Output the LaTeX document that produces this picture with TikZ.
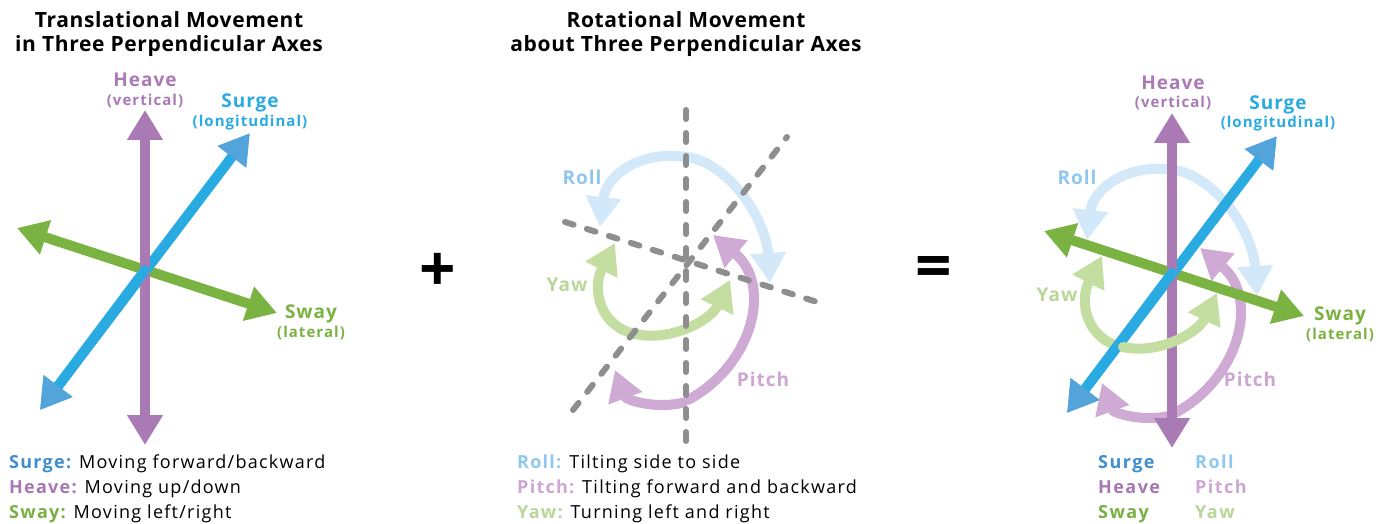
\documentclass[tikz,border=0pt]{standalone}
\usepackage{fontspec}
\setmainfont{Open Sans}
\newfontfamily\legfont[LetterSpace=7]{Open Sans}
\newfontfamily\keyfont[LetterSpace=8]{Open Sans}
\newfontfamily\lblfont[LetterSpace=5]{Open Sans}
\newfontfamily\subfont[LetterSpace=7]{Open Sans}
\newfontfamily\titfont[LetterSpace=3]{Open Sans}
\usetikzlibrary{arrows.meta}
\definecolor{heavec}{HTML}{AA7AB5}
\definecolor{surgec}{HTML}{29AAE1}
\definecolor{surgeh}{HTML}{52A4DB}
\definecolor{swayc}{HTML}{7BB342}
\definecolor{rollc}{HTML}{D3E8F8}
\definecolor{rolll}{HTML}{8EC8EE}
\definecolor{yawc}{HTML}{C4DDA0}
\definecolor{yawl}{HTML}{B8D798}
\definecolor{pitchc}{HTML}{CFAAD4}
\definecolor{pitchl}{HTML}{CDA6D2}
\definecolor{dashc}{HTML}{8E8E8E}
\definecolor{legsurge}{HTML}{3E8ED0}
\definecolor{legheave}{HTML}{A777B4}
\definecolor{legsway}{HTML}{78B043}
\tikzset{
  axisline/.style={line width=10pt},
  rotline/.style={line width=10pt},
  bigtip/.style={>={Triangle[width=34pt,length=30pt]}},
  dashline/.style={line width=6pt, draw=dashc, line cap=round, dash pattern=on 9pt off 14pt},
  title/.style={font=\titfont\fontsize{21}{24}\selectfont\bfseries, align=center, inner sep=0pt},
  biglbl/.style={font=\lblfont\fontsize{19}{20}\selectfont\bfseries, inner sep=0pt, anchor=base},
  sublbl/.style={font=\subfont\fontsize{15}{16}\selectfont\bfseries, inner sep=0pt, anchor=base},
  legend/.style={font=\legfont\fontsize{18}{20}\selectfont, inner sep=0pt, anchor=base west},
  legendb/.style={font=\keyfont\fontsize{18}{20}\selectfont\bfseries, inner sep=0pt, anchor=base west},
  sign/.style={font=\fontsize{64}{64}\selectfont\bfseries, inner sep=0pt}
}
\newcommand\axesset[1]{%
\begin{scope}[shift={#1}, bigtip]
  \draw[axisline, swayc, <->] (-128,-42) -- (132,43);
  \draw[axisline, surgec, {Triangle[width=34pt,length=30pt,color=surgeh]}-{Triangle[width=34pt,length=30pt,color=surgeh]}] (-105,140) -- (105,-137);
  \draw[axisline, heavec, <->] (0,-160) -- (0,175);
  \draw[axisline, surgec, line cap=round, -{Triangle[width=34pt,length=30pt,color=surgeh]}] (0,0) -- (-105,140);
\end{scope}}
\newcommand\rotset[1]{%
\begin{scope}[shift={#1}, bigtip]
  \draw[rotline, rollc, ->] (0,-103) .. controls (-45,-110) and (-80,-85) .. (-86,-33);
  \draw[rotline, rollc, line cap=round, ->] (2,-103) .. controls (45,-95) and (80,-40) .. (84,23);
  \draw[rotline, yawc, <-] (-71,-17) .. controls (-95,30) and (-85,68) .. (-50,74);
  \draw[rotline, pitchc, ->] (0,142) .. controls (-30,150) and (-60,140) .. (-71,110);
  \draw[rotline, pitchc, line cap=round, ->] (2,140) .. controls (67,105) and (87,25) .. (27,-25);
\end{scope}}
\newcommand\yawright[1]{%
\begin{scope}[shift={#1}, bigtip]
  \draw[rotline, yawc, line cap=round, ->] (-50,74) .. controls (-15,82) and (25,60) .. (44,20);
\end{scope}}
\begin{document}
\begin{tikzpicture}[x=1pt,y=-1pt]
\fill[white] (0,0) rectangle (1390,524);
\useasboundingbox (0,0) rectangle (1390,524);

% ---------- left panel ----------
\node[title] (t1) at (169,34) {Translational Movement\\in Three Perpendicular Axes};
\axesset{(145,270)}
\node[biglbl, heavec] (lh) at (145,87) {Heave};
\node[sublbl, heavec] (lhs) at (145,106) {(vertical)};
\node[biglbl, surgec] (ls) at (250,108) {Surge};
\node[sublbl, surgec] (lss) at (250,127) {(longitudinal)};
\node[biglbl, swayc] (lw) at (311,318) {Sway};
\node[sublbl, swayc] (lws) at (311,337) {(lateral)};
\node[legend] (g1) at (9,468) {\textcolor{legsurge}{\bfseries Surge:} Moving forward/backward};
\node[legend] (g2) at (9,493) {\textcolor{legheave}{\bfseries Heave:} Moving up/down};
\node[legend] (g3) at (9,518) {\textcolor{legsway}{\bfseries Sway:} Moving left/right};

\node[sign] (plus) at (438,272) {+};

% ---------- middle panel ----------
\node[title] (t2) at (686,34) {Rotational Movement\\about Three Perpendicular Axes};
\rotset{(686,260)}
\yawright{(686,260)}
\draw[dashline] (686,110) -- (686,447);
\draw[dashline] (573,410) -- (787,137);
\draw[dashline] (565,222) -- (817,302);
\node[biglbl, rolll] (mr) at (582,184) {Roll};
\node[biglbl, yawl] (my) at (567,291) {Yaw};
\node[biglbl, pitchl] (mp) at (763,386) {Pitch};
\node[legend] (g4) at (517,468) {\textcolor{rolll}{\bfseries Roll:} Tilting side to side};
\node[legend] (g5) at (517,493) {\textcolor{pitchl}{\bfseries Pitch:} Tilting forward and backward};
\node[legend] (g6) at (517,518) {\textcolor{yawl}{\bfseries Yaw:} Turning left and right};

\node[sign] (eq) at (934,272) {=};

% ---------- right panel ----------
\rotset{(1173,273)}
\axesset{(1172,273)}
\yawright{(1173,273)}
\node[biglbl, heavec] (rh) at (1173,90) {Heave};
\node[sublbl, heavec] (rhs) at (1173,108) {(vertical)};
\node[biglbl, surgec] (rs) at (1278,110) {Surge};
\node[sublbl, surgec] (rss) at (1278,128) {(longitudinal)};
\node[biglbl, swayc] (rw) at (1340,320) {Sway};
\node[sublbl, swayc] (rws) at (1340,339) {(lateral)};
\node[biglbl, rolll] (rr) at (1077,185) {Roll};
\node[biglbl, yawl] (ry) at (1057,301) {Yaw};
\node[biglbl, pitchl] (rp) at (1250,386) {Pitch};
\node[legendb, legsurge] (k1) at (1098,468) {Surge};
\node[legendb, legheave] (k2) at (1098,493) {Heave};
\node[legendb, legsway] (k3) at (1098,518) {Sway};
\node[legendb, rolll] (k4) at (1195,468) {Roll};
\node[legendb, pitchl] (k5) at (1195,493) {Pitch};
\node[legendb, yawl] (k6) at (1195,518) {Yaw};
\end{tikzpicture}
\end{document}
